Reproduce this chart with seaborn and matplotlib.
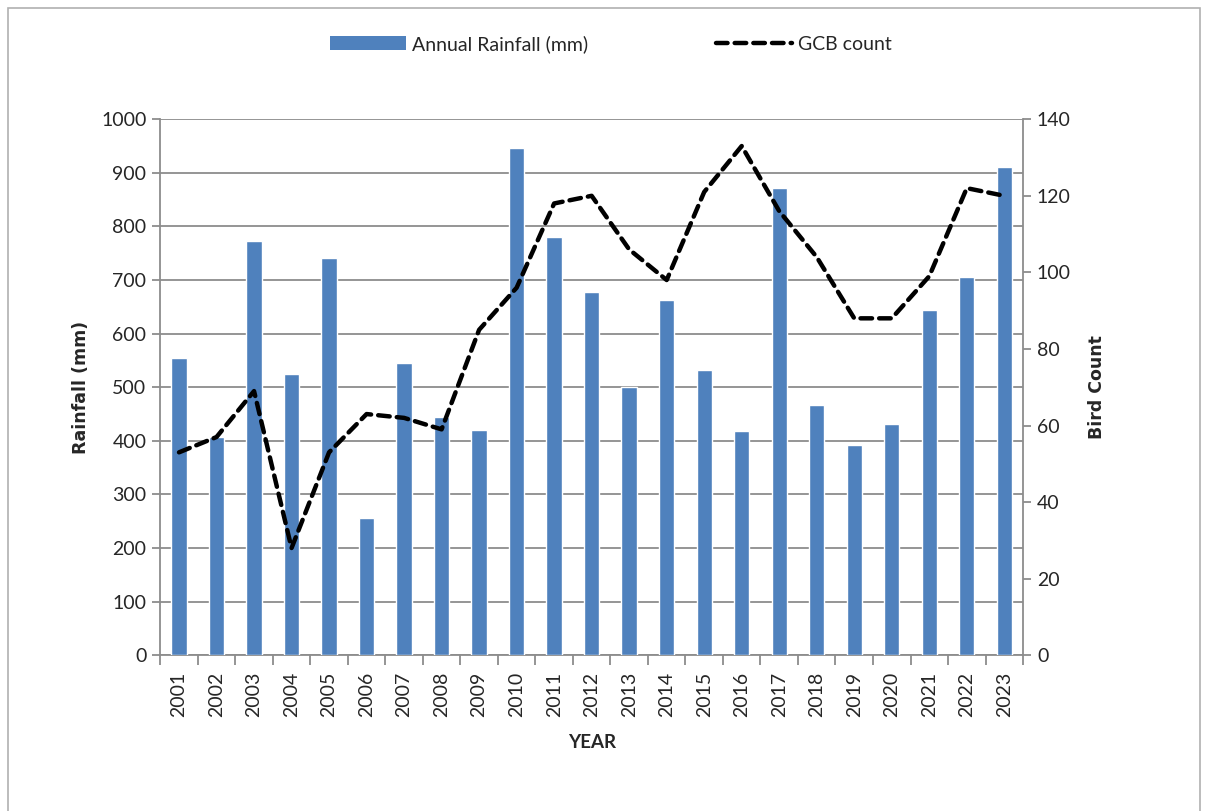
import matplotlib
matplotlib.use("Agg")
import matplotlib.pyplot as plt
import numpy as np
import pandas as pd
import seaborn as sns
from matplotlib.patches import Rectangle
from matplotlib.lines import Line2D
from matplotlib.patches import Patch

years = [str(y) for y in range(2001, 2024)]
rainfall = [555, 408, 773, 525, 742, 256, 545, 445, 420, 946, 781, 677,
            500, 662, 532, 419, 871, 466, 393, 432, 645, 705, 910]
gcb_count = [53, 57, 69, 28, 53, 63, 62, 59, 85, 96, 118, 120,
             106, 98, 121, 133, 116, 104, 88, 88, 99, 122, 120]

df = pd.DataFrame({"year": years, "rainfall": rainfall, "gcb": gcb_count})

sns.set_theme(style="white")
plt.rcParams["font.family"] = ["Lato", "DejaVu Sans"]

grid_col = "#8c8c8c"
bar_col = "#4F81BD"
dash = (0, (2.6, 1.6))

fig = plt.figure(figsize=(12.05, 8.11), dpi=100)
ax = fig.add_axes([0.133, 0.192, 0.716, 0.661])

sns.barplot(data=df, x="year", y="rainfall", color=bar_col, width=0.41,
            saturation=1, ax=ax, zorder=3)
ax.set_ylim(0, 1000)
ax.set_xlim(-0.5, len(years) - 0.5)
ax.set_yticks(np.arange(0, 1001, 100))
ax.yaxis.grid(True, color=grid_col, linewidth=1.3, zorder=0)
ax.set_axisbelow(True)
for s in ["top", "right"]:
    ax.spines[s].set_visible(False)
for s in ["left", "bottom"]:
    ax.spines[s].set_color(grid_col)
    ax.spines[s].set_linewidth(1.3)
ax.tick_params(axis="y", left=True, length=6, color=grid_col, width=1.3,
               labelsize=14, pad=4)
ax.tick_params(axis="x", bottom=False, labelsize=14, labelrotation=90, pad=6)
ax.set_xticks(np.arange(-0.5, len(years), 1), minor=True)
ax.tick_params(axis="x", which="minor", bottom=True, length=7,
               color=grid_col, width=1.3)
ax.set_xlabel("YEAR", fontsize=13.5, fontweight="bold", labelpad=12)
ax.set_ylabel("Rainfall (mm)", fontsize=12.5, fontweight="bold", labelpad=8,
              family="DejaVu Sans")

ax2 = ax.twinx()
x_pos = np.arange(len(years))
sns.lineplot(x=x_pos, y=df["gcb"], ax=ax2, color="black", linewidth=3.2,
             linestyle=dash, dash_capstyle="round", zorder=4)
ax2.set_ylim(0, 140)
ax2.set_xlim(-0.5, len(years) - 0.5)
ax2.set_yticks(np.arange(0, 141, 20))
for s in ["top", "left", "bottom"]:
    ax2.spines[s].set_visible(False)
ax2.spines["right"].set_color(grid_col)
ax2.spines["right"].set_linewidth(1.3)
ax2.tick_params(axis="y", right=True, length=6, color=grid_col, width=1.3,
                labelsize=14, pad=4)
ax2.set_ylabel("Bird Count", fontsize=12.5, fontweight="bold", labelpad=12,
               family="DejaVu Sans")
ax2.grid(False)

handles = [Patch(facecolor=bar_col, edgecolor="none"),
           Line2D([0], [0], color="black", linewidth=3.2,
                  linestyle=dash, dash_capstyle="round")]
fig.legend(handles, ["Annual Rainfall (mm)", "GCB count"], loc="center",
           bbox_to_anchor=(0.507, 0.946), ncol=2, frameon=False,
           fontsize=14, columnspacing=6.6, handlelength=3.9, handletextpad=0.3,
           handleheight=0.8)

fig.patches.append(Rectangle((0.007, -0.01), 0.989, 1.0, transform=fig.transFigure,
                             fill=False, edgecolor="#b0b0b0", linewidth=1.2))

fig.savefig("out.png", dpi=100)
plt.close(fig)
